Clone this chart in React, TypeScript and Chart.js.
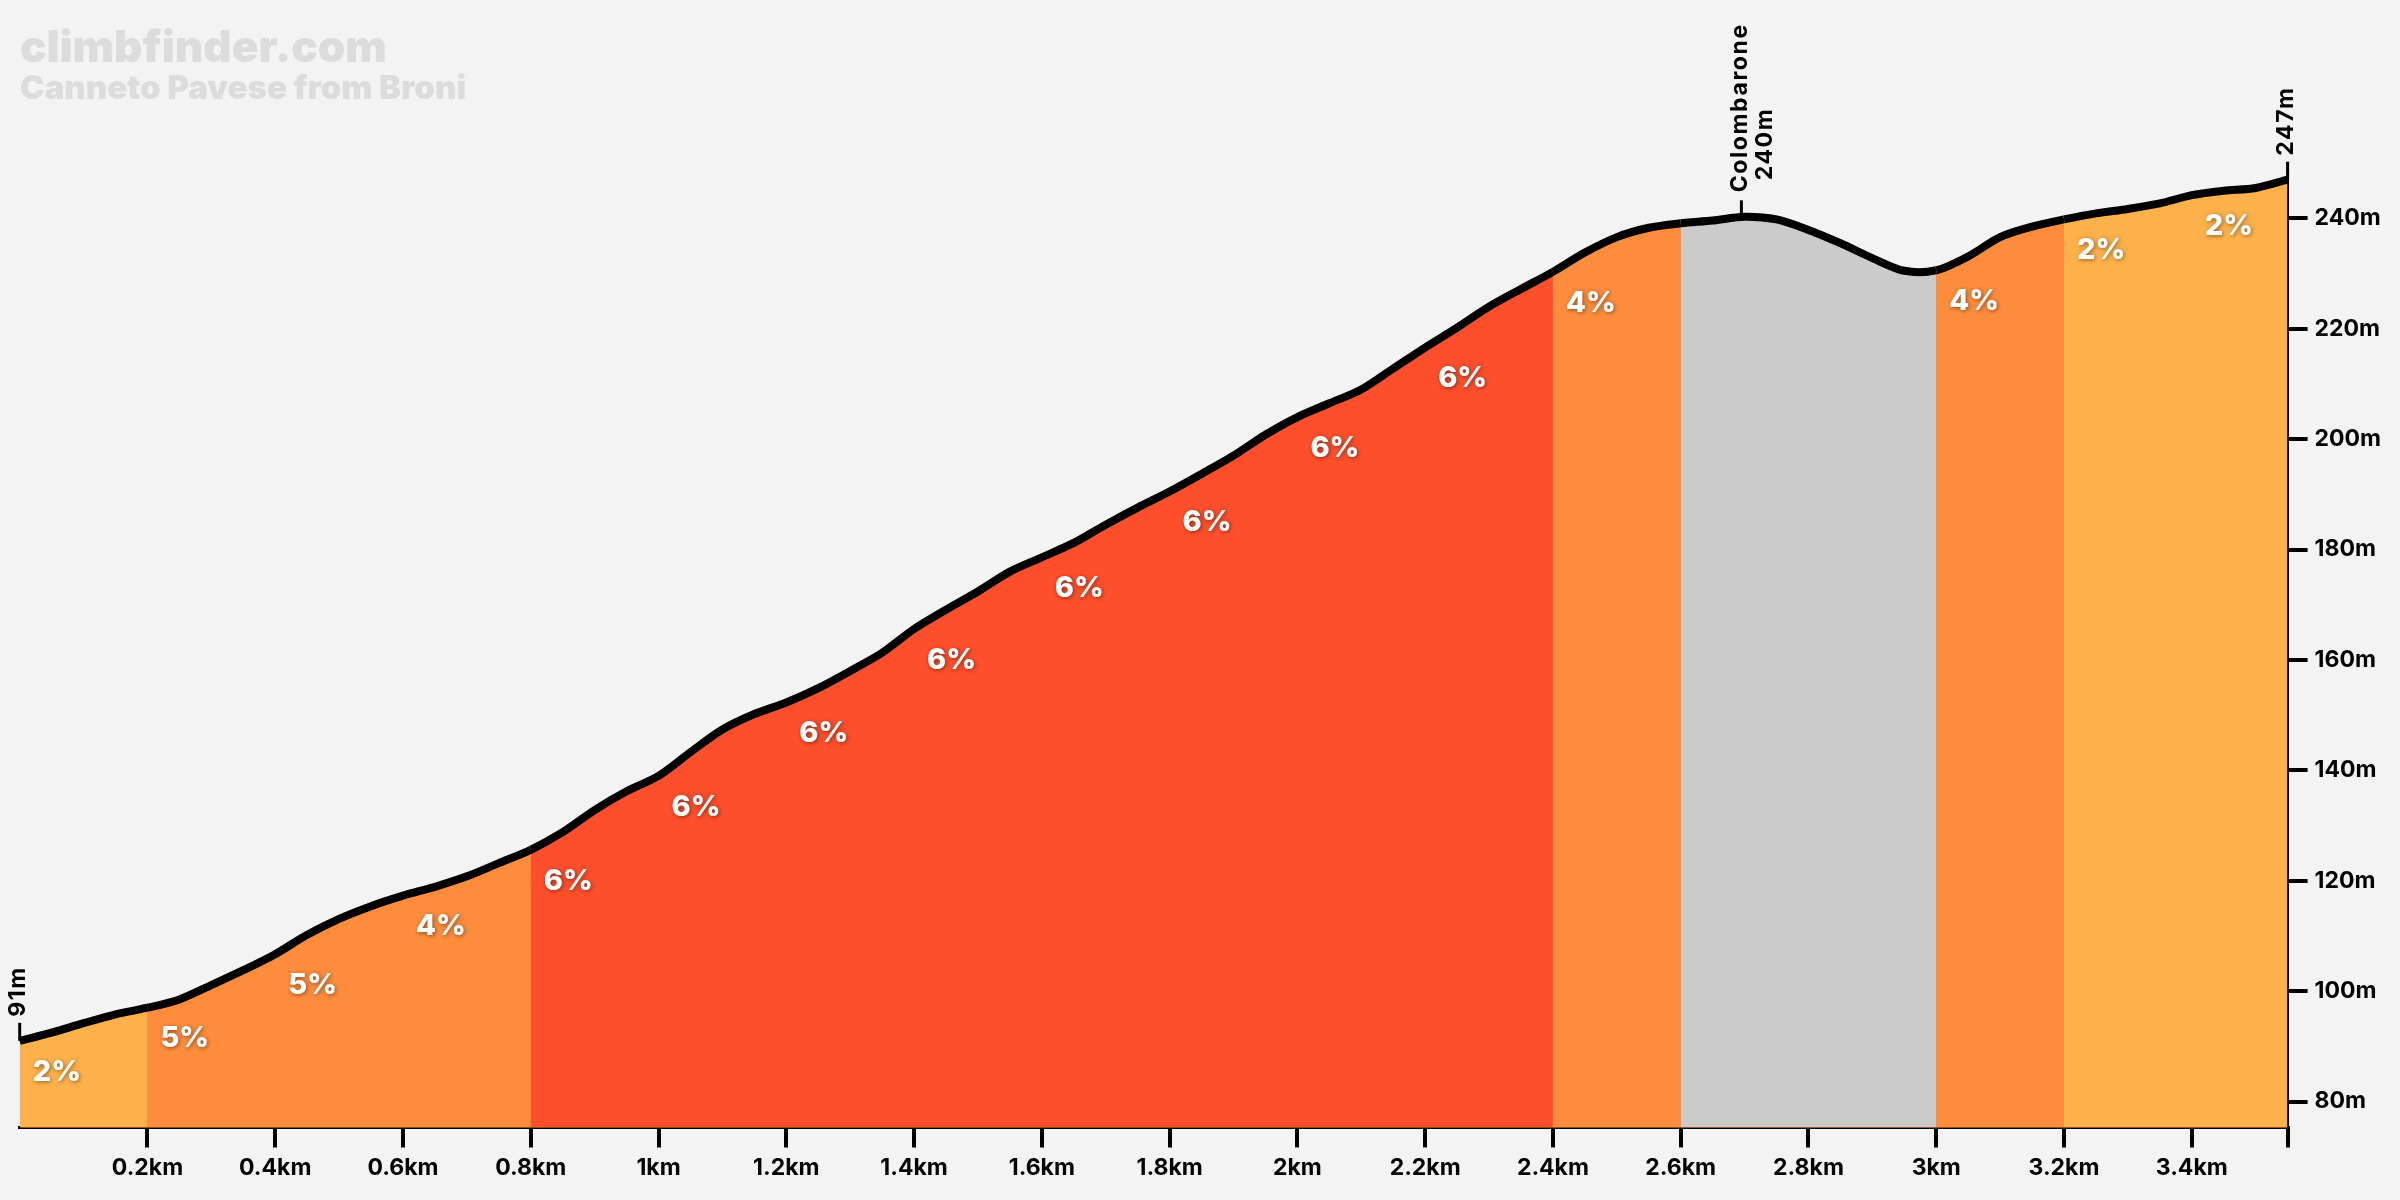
import React, { useEffect, useRef } from 'react';
import { Chart, registerables } from 'chart.js';

Chart.register(...registerables);

// ---- data ----
const distanceKm = [
  0, 0.05, 0.1, 0.15, 0.2, 0.25, 0.3, 0.35, 0.4, 0.45, 0.5, 0.55, 0.6, 0.65, 0.7, 0.75,
  0.8, 0.85, 0.9, 0.95, 1.0, 1.05, 1.1, 1.15, 1.2, 1.25, 1.3, 1.35, 1.4, 1.45, 1.5, 1.55,
  1.6, 1.65, 1.7, 1.75, 1.8, 1.85, 1.9, 1.95, 2.0, 2.05, 2.1, 2.15, 2.2, 2.25, 2.3, 2.35,
  2.4, 2.45, 2.5, 2.55, 2.6, 2.65, 2.7, 2.75, 2.8, 2.85, 2.9, 2.95, 3.0, 3.05, 3.1, 3.15,
  3.2, 3.25, 3.3, 3.35, 3.4, 3.45, 3.5, 3.55,
];
const elevationM = [
  91.0, 92.5, 94.2, 95.8, 97.0, 98.5, 101.1, 103.8, 106.7, 110.2, 113.1, 115.4, 117.3, 118.9, 120.8, 123.2,
  125.6, 128.8, 132.8, 136.2, 139.0, 143.3, 147.4, 150.2, 152.3, 154.9, 158.0, 161.3, 165.6, 169.1, 172.4, 176.0,
  178.6, 181.2, 184.5, 187.6, 190.5, 193.7, 197.0, 200.8, 204.0, 206.5, 209.0, 212.8, 216.6, 220.2, 224.0, 227.2,
  230.3, 233.8, 236.6, 238.3, 239.1, 239.6, 240.3, 239.8, 237.9, 235.5, 232.8, 230.5, 230.6, 233.1, 236.6, 238.5,
  239.8, 240.9, 241.7, 242.7, 244.2, 245.0, 245.5, 247.0,
];
const segmentStartKm = [0, 0.2, 0.4, 0.6, 0.8, 1.0, 1.2, 1.4, 1.6, 1.8, 2.0, 2.2, 2.4, 2.6, 3.0, 3.2, 3.4];
const segmentGrade: (number | null)[] = [2, 5, 5, 4, 6, 6, 6, 6, 6, 6, 6, 6, 4, null, 4, 2, 2];
const xTickKm = [0.2, 0.4, 0.6, 0.8, 1.0, 1.2, 1.4, 1.6, 1.8, 2.0, 2.2, 2.4, 2.6, 2.8, 3.0, 3.2, 3.4, 3.55];
const yTickM = [80, 100, 120, 140, 160, 180, 200, 220, 240];
const yMinM = 75.3;
const summitName = 'Colombarone';
const summitKm = 2.695;
const summitElevM = 240;
const titleText = 'climbfinder.com';
const subtitleText = 'Canneto Pavese from Broni';

const COLORS = {
  bg: '#f3f3f3',
  easy: '#fdb14b',
  mid: '#fd8c3d',
  hard: '#fd4f2c',
  down: '#cbcbcb',
  title: '#dcdcdc',
};

function gradeColor(g: number | null) {
  if (g == null) return COLORS.down;
  if (g <= 2) return COLORS.easy;
  if (g <= 5) return COLORS.mid;
  return COLORS.hard;
}

function segmentIndexAt(km: number) {
  let idx = 0;
  for (let i = 0; i < segmentStartKm.length; i++) {
    if (km >= segmentStartKm[i] - 1e-6) idx = i;
  }
  return idx;
}

function elevAt(km: number) {
  let best = 0;
  for (let i = 0; i < distanceKm.length; i++) {
    if (Math.abs(distanceKm[i] - km) < Math.abs(distanceKm[best] - km)) best = i;
  }
  return elevationM[best];
}

const FONT = 'Inter, "Open Sans", sans-serif';

const overlayPlugin = {
  id: 'overlay',
  beforeDraw(chart: any) {
    const { ctx, width, height } = chart;
    ctx.save();
    ctx.fillStyle = COLORS.bg;
    ctx.fillRect(0, 0, width, height);
    ctx.restore();
  },
  beforeDatasetsDraw(chart: any) {
    // underlay to hide anti-aliasing seams between differently coloured fill segments
    const { ctx, chartArea } = chart;
    const pts = chart.getDatasetMeta(0).data;
    if (!pts || !pts.length) return;
    ctx.save();
    ctx.fillStyle = COLORS.mid;
    ctx.beginPath();
    ctx.moveTo(pts[0].x + 1, chartArea.bottom);
    pts.forEach((p: any, i: number) => {
      const x = i === 0 ? p.x + 1 : i === pts.length - 1 ? p.x - 1 : p.x;
      ctx.lineTo(x, p.y + 3);
    });
    ctx.lineTo(pts[pts.length - 1].x - 1, chartArea.bottom);
    ctx.closePath();
    ctx.fill();
    ctx.restore();
  },
  afterDatasetsDraw(chart: any) {
    const { ctx } = chart;
    const xs = chart.scales.x;
    const ys = chart.scales.y;

    // title
    ctx.save();
    ctx.fillStyle = COLORS.title;
    ctx.textAlign = 'left';
    ctx.textBaseline = 'alphabetic';
    ctx.font = `900 44px ${FONT}`;
    ctx.fillText(titleText, 20, 62);
    ctx.font = `900 33px ${FONT}`;
    ctx.fillText(subtitleText, 20, 99);
    ctx.restore();

    // grade labels
    ctx.save();
    ctx.font = `800 29px ${FONT}`;
    ctx.fillStyle = '#ffffff';
    ctx.textAlign = 'left';
    ctx.textBaseline = 'middle';
    ctx.shadowColor = 'rgba(0,0,0,0.45)';
    ctx.shadowBlur = 4;
    ctx.shadowOffsetX = 1;
    ctx.shadowOffsetY = 1;
    segmentStartKm.forEach((s, i) => {
      const g = segmentGrade[i];
      if (g == null) return;
      const px = xs.getPixelForValue(s) + 13;
      const py = ys.getPixelForValue(elevAt(s)) + 31;
      ctx.fillText(`${g}%`, px, py);
    });
    ctx.restore();

    // markers
    const marker = (km: number, elev: number, lines: { text: string; up: number; dx: number }[]) => {
      const px = xs.getPixelForValue(km);
      const py = ys.getPixelForValue(elev);
      ctx.save();
      ctx.strokeStyle = '#000';
      ctx.lineWidth = 3;
      ctx.beginPath();
      ctx.moveTo(px, py - 18);
      ctx.lineTo(px, py);
      ctx.stroke();
      ctx.fillStyle = '#000';
      ctx.font = `bold 23px ${FONT}`;
      try { (ctx as any).letterSpacing = '1.6px'; } catch (e) {}
      ctx.textAlign = 'left';
      ctx.textBaseline = 'middle';
      lines.forEach((l) => {
        ctx.save();
        ctx.translate(px + l.dx, py - l.up);
        ctx.rotate(-Math.PI / 2);
        ctx.fillText(l.text, 0, 0);
        ctx.restore();
      });
      ctx.restore();
    };
    const first = 0;
    const last = distanceKm.length - 1;
    marker(distanceKm[first], elevationM[first], [{ text: `${Math.round(elevationM[first])}m`, up: 24, dx: -2 }]);
    marker(summitKm, summitElevM, [
      { text: summitName, up: 26, dx: -1 },
      { text: `${summitElevM}m`, up: 38, dx: 24 },
    ]);
    marker(distanceKm[last], elevationM[last], [{ text: `${Math.round(elevationM[last])}m`, up: 24, dx: -2 }]);
  },
};

export default function App() {
  const canvasRef = useRef<HTMLCanvasElement | null>(null);

  useEffect(() => {
    const canvas = canvasRef.current;
    if (!canvas) return;
    const points = distanceKm.map((x, i) => ({ x, y: elevationM[i] }));
    const chart = new Chart(canvas, {
      type: 'line',
      data: {
        datasets: [
          {
            data: points,
            borderColor: '#000',
            borderWidth: 8,
            borderCapStyle: 'butt',
            borderJoinStyle: 'round',
            pointRadius: 0,
            tension: 0.3,
            fill: 'start',
            backgroundColor: COLORS.mid,
            clip: false as any,
            segment: {
              backgroundColor: (c: any) => gradeColor(segmentGrade[segmentIndexAt(c.p0.parsed.x)]),
            },
          } as any,
        ],
      },
      options: {
        responsive: false,
        animation: false,
        devicePixelRatio: 1,
        events: [],
        layout: { padding: { left: 19.7, top: 179.7, right: 2.4, bottom: 12.5 } },
        plugins: { legend: { display: false }, tooltip: { enabled: false }, title: { display: false } },
        scales: {
          x: {
            type: 'linear',
            min: 0,
            max: distanceKm[distanceKm.length - 1],
            afterBuildTicks: (scale: any) => {
              scale.ticks = xTickKm.map((v) => ({ value: v }));
            },
            afterFit: (scale: any) => {
              scale.height = 60;
            },
            grid: {
              drawOnChartArea: false,
              drawTicks: true,
              tickLength: 20,
              color: '#000',
              lineWidth: 4,
            },
            border: { display: true, color: '#000', width: 3 },
            ticks: {
              autoSkip: false,
              maxRotation: 0,
              minRotation: 0,
              padding: 7,
              color: '#000',
              font: { family: FONT, size: 23, weight: 'bold' },
              callback: (v: any) => (v > 3.45 ? '' : `${Number(Number(v).toFixed(1))}km`),
            },
          },
          y: {
            type: 'linear',
            position: 'right',
            min: yMinM,
            max: elevationM[elevationM.length - 1],
            afterBuildTicks: (scale: any) => {
              scale.ticks = yTickM.map((v) => ({ value: v }));
            },
            afterFit: (scale: any) => {
              scale.width = 110;
            },
            grid: {
              drawOnChartArea: false,
              drawTicks: true,
              tickLength: 20,
              color: '#000',
              lineWidth: 4,
            },
            border: { display: true, color: '#000', width: 3 },
            ticks: {
              padding: 7,
              color: '#000',
              font: { family: FONT, size: 23, weight: 'bold' },
              callback: (v: any) => `${v}m`,
            },
          },
        },
      } as any,
      plugins: [overlayPlugin],
    });
    return () => chart.destroy();
  }, []);

  return (
    <div style={{ position: 'fixed', left: 0, top: 0, width: 2400, height: 1200, background: COLORS.bg }}>
      <canvas ref={canvasRef} width={2400} height={1200} style={{ width: 2400, height: 1200, display: 'block' }} />
    </div>
  );
}
